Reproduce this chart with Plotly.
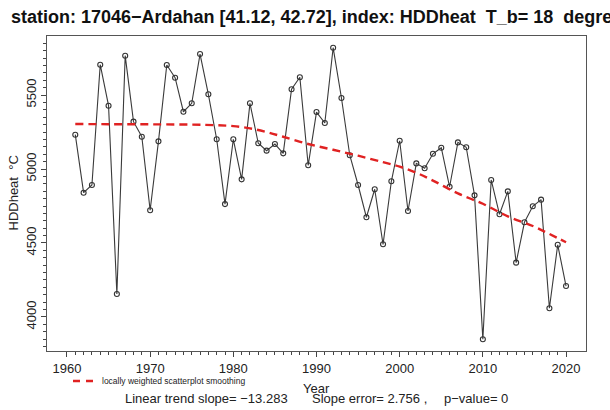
import plotly.graph_objects as go

years = list(range(1961, 2021))
hdd = [5232, 4840, 4892, 5705, 5428, 4155, 5766, 5320, 5218, 4721,
       5187, 5703, 5617, 5387, 5444, 5777, 5505, 5201, 4763, 5201,
       4930, 5444, 5174, 5124, 5169, 5106, 5539, 5620, 5025, 5385,
       5311, 5820, 5480, 5093, 4892, 4674, 4863, 4491, 4917, 5191,
       4716, 5038, 5005, 5103, 5144, 4880, 5180, 5147, 4822, 3849,
       4926, 4694, 4849, 4367, 4640, 4748, 4793, 4059, 4488, 4209]

lo_years = [1961, 1965, 1970, 1975, 1978, 1980, 1982, 1984, 1986, 1989,
            1992, 1995, 1998, 2000, 2002, 2004, 2007, 2010, 2013, 2016,
            2018, 2020]
lo_vals = [5304, 5303, 5302, 5300, 5296, 5290, 5275, 5250, 5218, 5169,
           5130, 5090, 5046, 5016, 4975, 4922, 4835, 4765, 4680, 4615,
           4561, 4505]

x_ticks = [1960, 1970, 1980, 1990, 2000, 2010, 2020]
x_minor = list(range(1960, 2021))
y_ticks = [4000, 4500, 5000, 5500]

title = "station: 17046\u2212Ardahan [41.12, 42.72], index: HDDheat  T_b= 18  degree"

W, H = 610, 410
L, R, T, B = 47, 24, 36, 59
pw, ph = W - L - R, H - T - B

def px(xp):
    return (xp - L) / pw

def py(yp):
    return (H - B - yp) / ph

FONT = "Liberation Sans, Arial, sans-serif"

fig = go.Figure()
fig.add_trace(go.Scatter(
    x=years, y=hdd, mode="lines+markers",
    line=dict(color="#3a3a3a", width=1.1),
    marker=dict(symbol="circle-open", size=5, color="#333333",
                line=dict(width=1.1, color="#333333")),
    showlegend=False, hoverinfo="skip"))
fig.add_trace(go.Scatter(
    x=lo_years, y=lo_vals, mode="lines",
    line=dict(color="#e02222", width=2.4, dash="8px,5px", shape="spline"),
    showlegend=False, hoverinfo="skip"))

fig.update_layout(
    width=W, height=H,
    margin=dict(l=L, r=R, t=T, b=B, pad=0),
    paper_bgcolor="white", plot_bgcolor="white",
    font=dict(family=FONT, color="#222222", size=13),
    xaxis=dict(range=[1957.6, 2022.4], tickvals=x_ticks, ticks="outside",
               ticklen=5, tickwidth=1, tickcolor="#444444",
               showgrid=False, zeroline=False, showline=True, mirror=True,
               linecolor="#555555", linewidth=1,
               tickfont=dict(size=13, color="#222222"),
               minor=dict(tickvals=x_minor, ticks="outside", ticklen=3,
                          tickwidth=1, tickcolor="#444444", showgrid=False)),
    yaxis=dict(range=[3770, 5899], tickvals=y_ticks, ticks="outside",
               ticklen=5, tickwidth=1, tickcolor="#444444", tickangle=-90,
               showgrid=False, zeroline=False, showline=True, mirror=True,
               linecolor="#555555", linewidth=1,
               tickfont=dict(size=13, color="#222222"),
               minor=dict(dtick=50, ticks="outside", ticklen=3,
                          tickwidth=1, tickcolor="#444444", showgrid=False)),
)

ann = []
ann.append(dict(text="<b>" + title + "</b>", x=px(9), y=py(17), xref="paper",
                yref="paper", xanchor="left", yanchor="middle", showarrow=False,
                font=dict(size=18, color="#111111")))
ann.append(dict(text="HDDheat  \u00b0C", x=px(13), y=0.5, xref="paper",
                yref="paper", xanchor="center", yanchor="middle",
                textangle=-90, showarrow=False, font=dict(size=13)))
ann.append(dict(text="Year", x=px(316), y=py(388), xref="paper", yref="paper",
                xanchor="center", yanchor="middle", showarrow=False,
                font=dict(size=13)))
ann.append(dict(text="locally weighted scatterplot smoothing", x=px(100),
                y=py(381), xref="paper", yref="paper", xanchor="left",
                yanchor="middle", showarrow=False, font=dict(size=8.5)))
ann.append(dict(text="Linear trend slope= \u221213.283", x=px(123), y=py(399),
                xref="paper", yref="paper", xanchor="left", yanchor="middle",
                showarrow=False, font=dict(size=13)))
ann.append(dict(text="Slope error= 2.756 ,", x=px(310), y=py(399),
                xref="paper", yref="paper", xanchor="left", yanchor="middle",
                showarrow=False, font=dict(size=13)))
ann.append(dict(text="p\u2212value= 0", x=px(442), y=py(399),
                xref="paper", yref="paper", xanchor="left", yanchor="middle",
                showarrow=False, font=dict(size=13)))
fig.update_layout(annotations=ann)

fig.add_shape(type="line", xref="paper", yref="paper",
              x0=px(73), x1=px(94), y0=py(381), y1=py(381),
              line=dict(color="#e02222", width=2.4, dash="7px,6px"))

fig.write_html("out.html")
